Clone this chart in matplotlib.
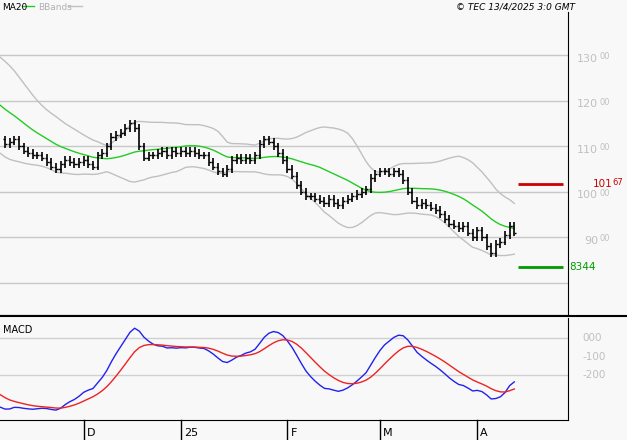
import numpy as np
import pandas as pd
import matplotlib.pyplot as plt

# closes (Nov 7 2024 .. Apr 11 2025), plus warm-up history
warmup = [127, 127.5, 128, 127, 126.5, 127, 128, 127.5, 126, 126.5,
          127, 126, 125.5, 126, 125, 124, 123, 121.5, 120, 119,
          118, 117, 116, 115, 114, 113.5, 113, 112.5, 112, 111.5]
closes = [110.5, 111, 111.5, 110, 109, 108.5, 108, 108, 107.5, 106.5,
          105.5, 105, 106, 107, 106.5, 106, 106.5, 107, 106, 105.5,
          108, 108.5, 110, 112, 112.5, 113, 114, 115, 114, 110,
          107.5, 108, 108, 108.5, 109, 108, 109, 108.5, 109, 108.5,
          109, 108.5, 108, 108, 106.5, 105.5, 104.5, 104, 105, 107,
          107.5, 107, 107.5, 107, 108, 110.5, 111.5, 111, 110, 108.5,
          107, 105, 103.5, 101.5, 100, 99, 99, 98.5, 98, 97.5,
          98.5, 97.5, 97, 98, 98.5, 99, 99.5, 100, 100.5, 103,
          104, 104.5, 104.5, 104, 104.5, 104, 102.5, 100, 98, 97,
          97.5, 97, 96.5, 96, 95, 94, 93, 92.5, 92, 92.5,
          91, 90, 91.5, 90, 88, 86.5, 88.5, 89, 90.5, 92.5, 91]
tick_idx = [17, 38, 61, 81, 102]
tick_labels = ["D", "25", "F", "M", "A"]
price_ticks = [90, 100, 110, 120, 130]
level_hi = 101.67
level_lo = 83.44

BG = "#f8f8f8"
s = pd.Series(warmup + closes)
nw = len(warmup)
ma = s.rolling(20).mean()
sd = s.rolling(20).std(ddof=0)
macd = s.ewm(span=12, adjust=False).mean() - s.ewm(span=26, adjust=False).mean()
sig = macd.ewm(span=9, adjust=False).mean()
x_all = np.arange(len(s)) - nw
c = np.array(closes)
prev = np.concatenate([[warmup[-1]], c[:-1]])
hi = np.maximum(prev, c) + 0.8
lo = np.minimum(prev, c) - 0.8

fig = plt.figure(figsize=(6.27, 4.40), dpi=100, facecolor=BG)
ax = fig.add_axes([0, 125 / 440, 568 / 627, 303 / 440], facecolor=BG)
ax2 = fig.add_axes([0, 20 / 440, 568 / 627, 102 / 440], facecolor=BG)

px = 4.63
xl = (-5 / px, (568 - 5) / px)
ax.set_xlim(xl)
ax2.set_xlim(xl)
ax.set_ylim(72.9, 139.5)
ax2.set_ylim(-443, 108)

for v in [80] + price_ticks:
    ax.axhline(v, color="#c8c8c8", lw=1)
ax.plot(x_all, ma + 2 * sd, color="#c0c0c0", lw=1)
ax.plot(x_all, ma - 2 * sd, color="#c0c0c0", lw=1)
ax.plot(x_all, ma, color="#22cc22", lw=1)
xs = np.arange(len(c))
ax.vlines(xs, lo, hi, color="black", lw=1.2)
ax.hlines(c, xs, xs + 0.45, color="black", lw=1)
ax.hlines(prev, xs - 0.45, xs, color="black", lw=1)

ax.hlines(level_hi, 513 / px, 558 / px, color="#cc0000", lw=2)
ax.hlines(level_lo, 513 / px, 558 / px, color="#009900", lw=2)
yt = ax.get_yaxis_transform()
for v in price_ticks:
    ax.text(1.053, v - 0.8, str(v), transform=yt, color="#c0c0c0",
            fontsize=8, va="center", ha="right", clip_on=False)
    ax.text(1.055, v - 0.3, "00", transform=yt, color="#c0c0c0",
            fontsize=6, va="center", ha="left", clip_on=False)
ax.text(1.044, level_hi, "101", transform=yt, color="#cc0000",
        fontsize=7.5, va="center", ha="left")
ax.text(1.078, level_hi + 0.4, "67", transform=yt, color="#cc0000",
        fontsize=6, va="center", ha="left")
ax.text(1.003, level_lo, "8344", transform=yt, color="#009900",
        fontsize=7.5, va="center", ha="left")

ax2.axhline(0, color="#d0d0d0", lw=1)
ax2.axhline(-200, color="#d0d0d0", lw=1)
ax2.plot(x_all, macd * 100, color="#2222ee", lw=1)
ax2.plot(x_all, sig * 100, color="#ee2222", lw=1)
for v, t in [(0, "000"), (-100, "-100"), (-200, "-200")]:
    ax2.text(1.025, v, t, transform=ax2.get_yaxis_transform(), color="#c0c0c0",
             fontsize=7.5, va="center", ha="left")
ax2.text(0.005, 0.93, "MACD", transform=ax2.transAxes, fontsize=7, va="top")

for a in (ax, ax2):
    a.set_xticks([])
    a.set_yticks([])
    for sp in ["left", "top"]:
        a.spines[sp].set_visible(False)
    a.spines["right"].set_color("black")
    a.spines["bottom"].set_color("black")

fig.add_artist(plt.Line2D([0, 1], [124 / 440, 124 / 440], color="black", lw=1.5))
for i, t in zip(tick_idx, tick_labels):
    xf = (5 + i * px) / 627
    fig.add_artist(plt.Line2D([xf, xf], [0, 20 / 440], color="black", lw=1))
    fig.text(xf + 3 / 627, 7 / 440, t, fontsize=8, va="center", ha="left")

fig.text(2 / 627, 433 / 440, "MA20", fontsize=6.5, va="center", color="black")
fig.add_artist(plt.Line2D([22 / 627, 34 / 627], [434 / 440] * 2, color="#22cc22", lw=1))
fig.text(38 / 627, 433 / 440, "BBands", fontsize=6.5, va="center", color="#b0b0b0")
fig.add_artist(plt.Line2D([68 / 627, 82 / 627], [434 / 440] * 2, color="#c0c0c0", lw=1))
fig.text(575 / 627, 433 / 440, "© TEC 13/4/2025 3:0 GMT", fontsize=6.5,
         va="center", ha="right", style="italic")

fig.savefig("out.png", dpi=100, facecolor=BG)
